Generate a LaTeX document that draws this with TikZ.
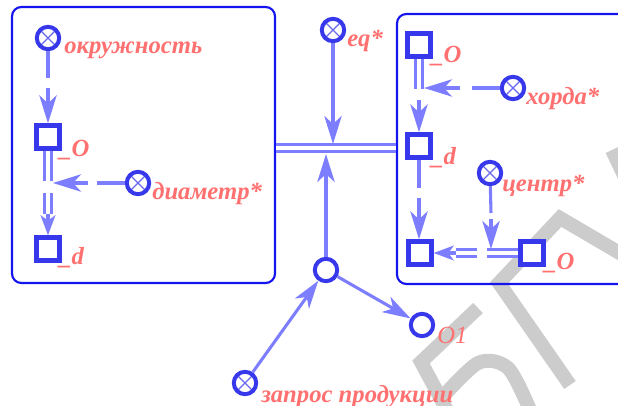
\documentclass[tikz,border=0pt]{standalone}
\usepackage{fontspec}
\setmainfont{Liberation Serif}
\usetikzlibrary{arrows.meta}
\definecolor{boxblue}{RGB}{20,20,240}
\definecolor{nodeblue}{RGB}{55,55,235}
\definecolor{arrblue}{RGB}{125,125,255}
\definecolor{lblred}{RGB}{255,112,112}
\definecolor{wmgray}{RGB}{204,204,204}
\tikzset{
  frame/.style={draw=boxblue, line width=1.6pt, rounded corners=7pt, inner sep=0pt},
  sq/.style={draw=nodeblue, line width=3.2pt, minimum size=17.3pt, inner sep=0pt, fill=white},
  ring/.style={circle, draw=nodeblue, line width=3pt, minimum size=16.8pt, inner sep=0pt, fill=white},
  xc/.style={ring, path picture={\draw[nodeblue!75, line width=0.9pt]
      (path picture bounding box.north west) -- (path picture bounding box.south east)
      (path picture bounding box.north east) -- (path picture bounding box.south west);}},
  arr/.style={draw=arrblue, line width=2.3pt},
  tip/.style={arr, -{Stealth[length=21pt,width=13pt,inset=6pt]}},
  dtip/.style={arr, -{Stealth[length=15pt,width=11pt,inset=4pt]}},
  dbl/.style={draw=arrblue, line width=2pt, double=white, double distance=3.4pt},
  lbl/.style={text=lblred, font=\fontsize{18.5}{20}\selectfont\bfseries\itshape, inner sep=0pt, anchor=base west},
  lbltwo/.style={text=lblred, font=\fontsize{18.5}{20}\selectfont\itshape, inner sep=0pt, anchor=base west},
  wm/.style={draw=wmgray, line width=10.5pt}
}
\begin{document}
\begin{tikzpicture}[x=0.75pt,y=-0.75pt]
\useasboundingbox (0,0) rectangle (618,406);
% watermark
\draw[wm] (570,385) -- (499,283) -- (560,218) -- (640,265);
\draw[wm] (612,150) -- (632,192);
\draw[wm] (478,308) -- (421,362) -- (448,412);
\draw[wm] plot[smooth] coordinates {(438,402) (478,363) (508,368) (530,410)};
% frames
\node[frame, minimum width=197.25pt, minimum height=207pt] (frameL) at (143.5,145) {};
\node[frame, minimum width=186pt, minimum height=202.5pt] (frameR) at (521,149) {};
% left box
\node[xc] (okr) at (48,38) {};
\node[sq] (sqOa) at (48,137) {};
\node[sq] (sqda) at (48,249) {};
\node[xc] (diam) at (138,183) {};
\node[lbl] (lokr) at (64,54) {окружность};
\node[lbl] (lOa) at (59,157) {\_O};
\node[lbl] (ldiam) at (152,200) {диаметр*};
\node[lbl] (lda) at (59,265) {\_d};
\coordinate (ok1) at (48,78);
\coordinate (ok2) at (48,88);
\draw[arr] (okr) -- (ok1);
\draw[tip] (ok2) -- (sqOa.north);
\coordinate (ja) at (48,181);
\draw[dbl] (sqOa.south) -- (ja);
\coordinate (da) at (97,183);
\coordinate (db) at (88,183);
\coordinate (dc) at (53,183);
\draw[arr] (diam) -- (da);
\draw[tip] (db) -- (dc);
\coordinate (jb) at (48,193);
\coordinate (jc) at (48,214);
\draw[dbl] (jb) -- (jc);
\draw[dtip] (jc) -- (sqda.north);
% middle
\node[xc] (eq) at (333,30) {};
\node[lbl] (leq) at (347,47) {eq*};
\coordinate (bus) at (330,148);
\draw[dbl] (frameL.east |- bus) -- (frameR.west |- bus);
\coordinate (eqt) at (333,144);
\draw[tip] (eq) -- (eqt);
\node[ring] (hub) at (326,270) {};
\coordinate (hubt) at (326,154);
\draw[tip] (hub) -- (hubt);
\node[ring] (o1) at (422,325) {};
\node[lbltwo] (lo1) at (437,343) {O1};
\draw[tip] (hub) -- (o1);
\node[xc] (zap) at (245,383) {};
\node[lbl] (lzap) at (261,402) {запрос продукции};
\draw[tip] (zap) -- (hub);
% right box
\node[sq] (sqOb) at (419,45) {};
\node[lbl] (lOb) at (431,63) {\_O};
\node[xc] (xor) at (513,88) {};
\node[lbl] (lxor) at (526,105) {хорда*};
\node[sq] (sqdb) at (419,146) {};
\node[lbl] (ldb) at (431,165) {\_d};
\node[sq] (sqE) at (420,253) {};
\node[xc] (cen) at (490,173) {};
\node[lbl] (lcen) at (502,192) {центр*};
\node[sq] (sqOc) at (532,253) {};
\node[lbl] (lOc) at (544,270) {\_O};
\coordinate (ra) at (419,89);
\draw[dbl] (sqOb.south) -- (ra);
\coordinate (xa) at (472,88);
\coordinate (xb) at (460,88);
\coordinate (xt) at (424,88);
\draw[arr] (xor) -- (xa);
\draw[tip] (xb) -- (xt);
\coordinate (rb) at (419,100);
\draw[tip] (rb) -- (sqdb.north);
\coordinate (rc) at (419,188);
\coordinate (rd) at (419,198);
\draw[arr] (sqdb) -- (rc);
\draw[tip] (rd) -- (sqdb.north |- sqE.north);
\coordinate (ca) at (491,213);
\coordinate (cb) at (491,219);
\coordinate (ct) at (491,249);
\draw[arr] (cen) -- (ca);
\draw[tip] (cb) -- (ct);
\coordinate (cj) at (487,253);
\draw[dbl] (sqOc.west) -- (cj);
\coordinate (ea) at (477,253);
\coordinate (eb) at (456,253);
\draw[dbl] (ea) -- (eb);
\draw[dtip] (eb) -- (sqE.east);
\end{tikzpicture}
\end{document}
